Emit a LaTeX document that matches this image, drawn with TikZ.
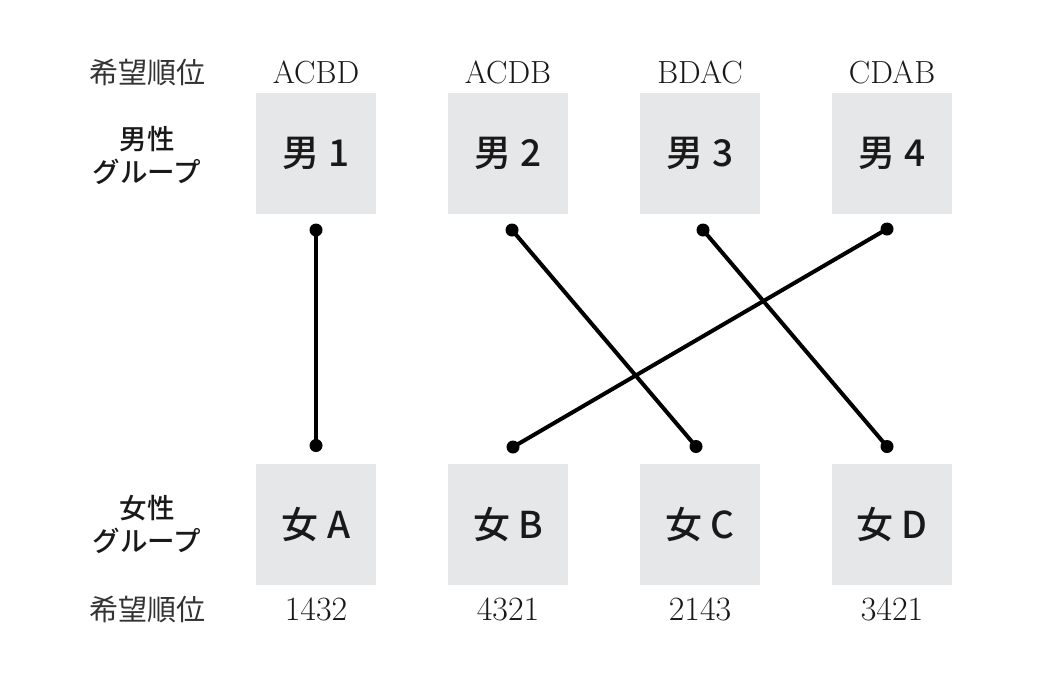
\documentclass[tikz,border=0pt]{standalone}
\usepackage{fontspec}
\newfontfamily\jp{Noto Sans CJK JP}
\newfontfamily\jpm{Noto Sans CJK JP Medium}
\tikzset{
  box/.style={rectangle, fill=boxgray, minimum width=120pt, minimum height=121pt, inner sep=0pt,
    font=\jpm\fontsize{37}{42}\selectfont, text=black!90},
  dot/.style={circle, fill=black, inner sep=0pt, minimum size=13pt},
  link/.style={line width=4pt, black},
  rank/.style={font=\fontsize{32}{36}\selectfont, text=black!90},
  nums/.style={font=\fontsize{34}{38}\selectfont, text=black!90},
  kibo/.style={font=\jp\fontsize{29}{32}\selectfont, text=black!80},
  grp/.style={font=\jpm\fontsize{27.5}{32}\selectfont, align=center, text=black!90},
}
\definecolor{boxgray}{HTML}{E6E7E8}
\begin{document}
\begin{tikzpicture}[x=1pt,y=-1pt]
\useasboundingbox[fill=white] (0,0) rectangle (1040,673);
% labels
\node[kibo] (kt) at (147,72) {希望順位};
\node[kibo] (kb) at (147,609) {希望順位};
\node[grp] (gm) at (147,155) {男性\\[1pt]グループ};
\node[grp] (gf) at (147,524) {女性\\[1pt]グループ};
% top row
\node[box] (m1) at (316,153.5) {男 1};
\node[box] (m2) at (508,153.5) {男 2};
\node[box] (m3) at (700,153.5) {男 3};
\node[box] (m4) at (892,153.5) {男 4};
\node[rank] (r1) at (316,72) {ACBD};
\node[rank] (r2) at (508,72) {ACDB};
\node[rank] (r3) at (700,72) {BDAC};
\node[rank] (r4) at (892,72) {CDAB};
% bottom row
\node[box] (f1) at (316,524.5) {女 A};
\node[box] (f2) at (508,524.5) {女 B};
\node[box] (f3) at (700,524.5) {女 C};
\node[box] (f4) at (892,524.5) {女 D};
\node[nums] (n1) at (316,609) {1432};
\node[nums] (n2) at (508,609) {4321};
\node[nums] (n3) at (700,609) {2143};
\node[nums] (n4) at (892,609) {3421};
% dots
\node[dot] (dm1) at (316,230) {};
\node[dot] (dm2) at (512,230) {};
\node[dot] (dm3) at (703,230) {};
\node[dot] (dm4) at (887,229) {};
\node[dot] (df1) at (316,445.5) {};
\node[dot] (df2) at (513,447) {};
\node[dot] (df3) at (696,446.5) {};
\node[dot] (df4) at (887,446.5) {};
% links
\draw[link] (dm1.center) -- (df1.center);
\draw[link] (dm2.center) -- (df3.center);
\draw[link] (dm3.center) -- (df4.center);
\draw[link] (dm4.center) -- (df2.center);
\end{tikzpicture}
\end{document}
